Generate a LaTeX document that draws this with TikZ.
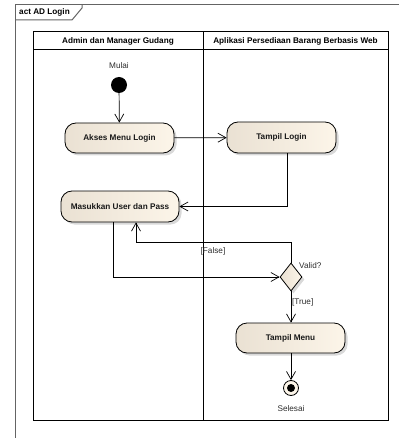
\documentclass[tikz,border=0pt]{standalone}
\usepackage{fontspec}
\setmainfont{Liberation Sans}
\usetikzlibrary{arrows.meta,shadows,shapes.geometric}

\definecolor{actleft}{RGB}{234,225,211}
\definecolor{actright}{RGB}{252,245,233}
\definecolor{framegray}{RGB}{100,100,100}
\definecolor{labelgray}{RGB}{45,45,45}

\tikzset{
  every node/.style={font=\fontsize{8.2}{10}\selectfont, inner sep=0pt},
  actbox/.style={rectangle, rounded corners=11pt, draw=black, line width=0.8pt,
    left color=actleft, right color=actright,
    font=\fontsize{8.2}{10}\selectfont\bfseries, text=black!90,
    drop shadow={shadow xshift=2.5pt, shadow yshift=-2.5pt, opacity=0.3}},
  decision/.style={diamond, draw=black, line width=0.8pt, aspect=0.78,
    left color=actleft, right color=actright,
    drop shadow={shadow xshift=2.5pt, shadow yshift=-2.5pt, opacity=0.3}},
  flow/.style={draw=black, line width=0.7pt,
    -{Straight Barb[length=8pt, width=9pt, line width=0.7pt]}},
  lane/.style={draw=black, line width=1pt},
  note/.style={text=labelgray},
}

\begin{document}
\begin{tikzpicture}[x=1pt, y=-1pt]
  \useasboundingbox (0,0) rectangle (399,438);

  % diagram frame with its name tab
  \draw[framegray, line width=1.3pt] (399,4.5) -- (15.5,4.5) -- (15.5,438);
  \draw[framegray, line width=1pt] (15.5,20) -- (72,20) -- (82,8) -- (82,4.5);
  \node[font=\fontsize{8.2}{10}\selectfont\bfseries, anchor=west] (frametitle) at (19,12.5) {act AD Login};

  % swimlanes
  \draw[lane] (33,32) rectangle (388,420);
  \draw[lane] (33,50) -- (388,50);
  \draw[lane] (203,32) -- (203,420);
  \node[font=\fontsize{8.2}{10}\selectfont\bfseries] (lane1) at (118,41) {Admin dan Manager Gudang};
  \node[font=\fontsize{8.2}{10}\selectfont\bfseries] (lane2) at (295.5,41) {Aplikasi Persediaan Barang Berbasis Web};

  % activity nodes
  \node[circle, fill=black, minimum size=16pt] (start) at (119,85) {};
  \node[note] (startlabel) at (119,66) {Mulai};

  \node[actbox, minimum width=109pt, minimum height=30pt] (akses) at (119.5,138) {Akses Menu Login};
  \node[actbox, minimum width=109pt, minimum height=31pt] (tlogin) at (281.5,137.5) {Tampil Login};
  \node[actbox, minimum width=118pt, minimum height=31pt] (masuk) at (120,206.5) {Masukkan User dan Pass};
  \node[decision, minimum width=22pt, minimum height=28pt] (valid) at (291,277) {};
  \node[note, anchor=west] (validlabel) at (299,266) {Valid?};
  \node[actbox, minimum width=109pt, minimum height=30pt] (tmenu) at (290.5,338) {Tampil Menu};

  \node[circle, draw=black, line width=0.8pt, fill=actright, minimum size=15pt] (finish) at (291,388) {};
  \node[circle, fill=black, minimum size=8pt] (finishdot) at (finish) {};
  \node[note] (finishlabel) at (291,409) {Selesai};

  % control flows
  \draw[flow] (start) -- (akses);
  \draw[flow] (akses) -- (tlogin);
  \draw[flow] ([xshift=5.5pt]tlogin.south) |- (masuk.east);
  \draw[flow] ([xshift=-7pt]masuk.south) |- (valid.west);
  \draw[flow] (valid.north) -- (valid.north |- 0,242) -| ([xshift=16pt]masuk.south);
  \node[note, anchor=west] (falselabel) at (200.5,251) {[False]};
  \draw[flow] (valid.south) -- (valid.south |- tmenu.north);
  \node[note, anchor=west] (truelabel) at (292,302) {[True]};
  \draw[flow] (finish.north |- tmenu.south) -- (finish.north);
\end{tikzpicture}
\end{document}
